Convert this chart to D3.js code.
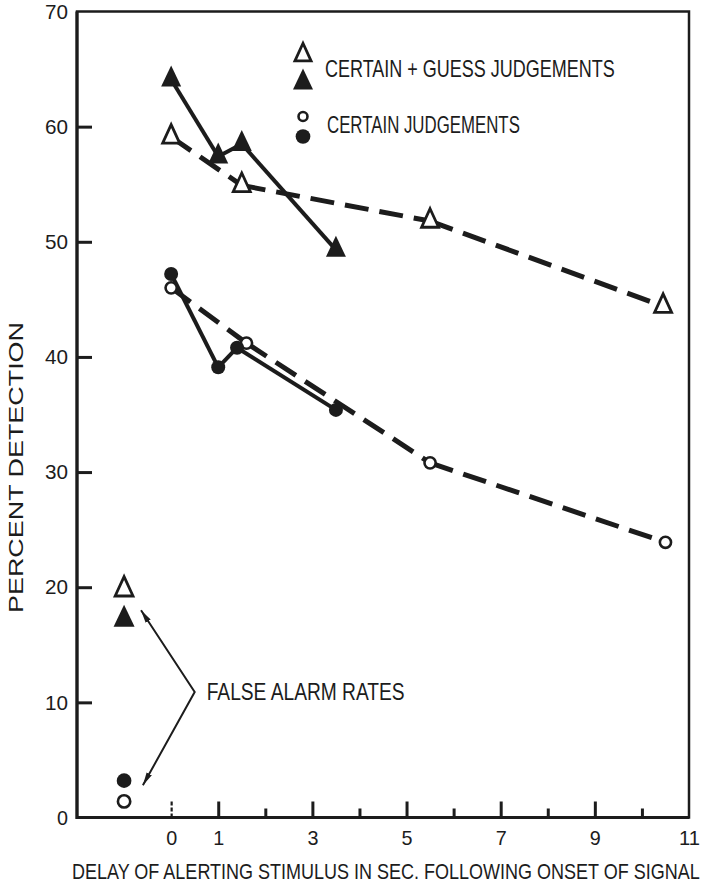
<!DOCTYPE html>
<html>
<head>
<meta charset="utf-8">
<script src="https://cdn.jsdelivr.net/npm/d3@7"></script>
<style>
  body { margin: 0; background: #fff; }
  svg text {
    font-family: "Liberation Sans Narrow", "Liberation Sans", Arial, sans-serif;
    fill: #1c1c1c;
  }
</style>
</head>
<body>
<div id="chart"></div>
<script>
//tick values
var yTicks = [0, 10, 20, 30, 40, 50, 60, 70];
var xMajor = [0, 1, 3, 5, 7, 9, 11];
var xMinor = [2, 4, 6, 8, 10];

//certain + guess judgements, open triangles (dashed)
var openTriX = [0, 1.5, 5.5, 10.45];
var openTriY = [59.1, 54.9, 51.8, 44.4];

//certain + guess judgements, filled triangles (solid)
var fillTriX = [0, 1, 1.5, 3.5];
var fillTriY = [64.1, 57.4, 58.5, 49.3];

//certain judgements, open circles (dashed)
var openCircX = [0, 1.6, 5.5, 10.5];
var openCircY = [46.0, 41.2, 30.8, 23.9];

//certain judgements, filled circles (solid)
var fillCircX = [0, 1, 1.4, 3.5];
var fillCircY = [47.2, 39.1, 40.8, 35.4];

//false alarm rates, drawn left of zero
var falseAlarmX = -1;
var falseAlarmKind = ["openTri", "fillTri", "fillCirc", "openCirc"];
var falseAlarmY = [19.8, 17.2, 3.2, 1.4];

//arrow for the false alarm label: upper tip, bend, lower tip
var arrowX = [-0.64, 0.5, -0.6];
var arrowY = [18, 10.9, 2.8];

var width = 707;
var height = 886;

var svg = d3
  .select("#chart")
  .append("svg")
  .attr("width", width)
  .attr("height", height);

//scales
var xScale = d3.scaleLinear().domain([-2, 11]).range([77, 689]);
var yScale = d3.scaleLinear().domain([0, 70]).range([817.5, 11.5]);

var ink = "#1c1c1c";

//squeeze a text horizontally so it fills a given width (condensed look)
var fitText = function(g, str, x, y, w, size, rotate, anchor) {
  var t = g
    .append("text")
    .attr("text-anchor", anchor || "start")
    .style("font-size", size + "px")
    .text(str);
  var natural = t.node().getComputedTextLength();
  t.attr(
    "transform",
    "translate(" + x + "," + y + ")" +
      (rotate ? " rotate(" + rotate + ")" : "") +
      " scale(" + w / natural + ",1)"
  );
  return t;
};

//frame
svg
  .append("rect")
  .attr("x", xScale(-2))
  .attr("y", yScale(70))
  .attr("width", xScale(11) - xScale(-2))
  .attr("height", yScale(0) - yScale(70))
  .attr("fill", "none")
  .attr("stroke", ink)
  .attr("stroke-width", 2.5);

//left and bottom lines are a bit heavier
svg
  .append("path")
  .attr("d", "M" + xScale(-2) + "," + yScale(70) + "V" + yScale(0) + "H" + xScale(11))
  .attr("fill", "none")
  .attr("stroke", ink)
  .attr("stroke-width", 3.2);

//y axis, ticks pointing inward
var yAxis = d3
  .axisLeft(yScale)
  .tickValues(yTicks)
  .tickSize(-15)
  .tickPadding(9);

var gy = svg
  .append("g")
  .attr("transform", "translate(" + xScale(-2) + ",0)")
  .call(yAxis);

gy.select(".domain").remove();
gy.selectAll(".tick line")
  .attr("stroke", ink)
  .attr("stroke-width", 3)
  .filter(function(d) {
    return d == 0 || d == 70;
  })
  .remove();
gy.selectAll(".tick text")
  .style("font-size", "21px")
  .attr("fill", ink)
  .attr("textLength", function(d) {
    return d < 10 ? 11 : 23;
  })
  .attr("lengthAdjust", "spacingAndGlyphs");

//x axis, major ticks
var xAxis = d3
  .axisBottom(xScale)
  .tickValues(xMajor)
  .tickSize(-16)
  .tickPadding(13);

var gx = svg
  .append("g")
  .attr("transform", "translate(0," + yScale(0) + ")")
  .call(xAxis);

gx.select(".domain").remove();
gx.selectAll(".tick line")
  .attr("stroke", ink)
  .attr("stroke-width", 3)
  .filter(function(d) {
    return d == 11;
  })
  .remove();
gx.selectAll(".tick line")
  .filter(function(d) {
    return d == 0;
  })
  .attr("stroke-width", 2.2)
  .attr("stroke-dasharray", "4,2");
gx.selectAll(".tick text")
  .style("font-size", "21px")
  .attr("fill", ink)
  .attr("textLength", function(d) {
    return d < 10 ? 11 : 21;
  })
  .attr("lengthAdjust", "spacingAndGlyphs");

//x axis, minor ticks
var xAxisMinor = d3
  .axisBottom(xScale)
  .tickValues(xMinor)
  .tickSize(-9)
  .tickFormat("");

var gxm = svg
  .append("g")
  .attr("transform", "translate(0," + yScale(0) + ")")
  .call(xAxisMinor);

gxm.select(".domain").remove();
gxm.selectAll(".tick line")
  .attr("stroke", ink)
  .attr("stroke-width", 3);

//axis titles
fitText(svg, "DELAY OF ALERTING STIMULUS IN SEC. FOLLOWING ONSET OF SIGNAL", 72, 879, 628, 22);
fitText(svg, "PERCENT DETECTION", 23, 467.5, 291, 21, -90, "middle");

//zip helper
var zip = function(xs, ys) {
  return xs.map(function(x, i) {
    return { x: x, y: ys[i] };
  });
};

var series = [
  { points: zip(openTriX, openTriY), kind: "openTri", dashed: true },
  { points: zip(openCircX, openCircY), kind: "openCirc", dashed: true },
  { points: zip(fillTriX, fillTriY), kind: "fillTri", dashed: false },
  { points: zip(fillCircX, fillCircY), kind: "fillCirc", dashed: false }
];

//lines, each segment drawn on its own so the dashes restart at every point
var lineLayer = svg.append("g");

series.forEach(function(s) {
  d3.pairs(s.points).forEach(function(p) {
    lineLayer
      .append("line")
      .attr("x1", xScale(p[0].x))
      .attr("y1", yScale(p[0].y))
      .attr("x2", xScale(p[1].x))
      .attr("y2", yScale(p[1].y))
      .attr("stroke", ink)
      .attr("stroke-width", s.dashed ? 5 : 4)
      .attr("stroke-dasharray", s.dashed ? "24,11" : null)
      .attr("stroke-linecap", "butt");
  });
});

//marker drawing
var triPath = function(cx, cy, hw, h) {
  return (
    "M" + cx + "," + (cy - (2 * h) / 3) +
    "L" + (cx + hw) + "," + (cy + h / 3) +
    "L" + (cx - hw) + "," + (cy + h / 3) + "Z"
  );
};

var drawMarker = function(g, kind, cx, cy, scale) {
  scale = scale || 1;
  if (kind == "openTri") {
    g.append("path")
      .attr("d", triPath(cx, cy, 8.5 * scale, 18.5 * scale))
      .attr("fill", "#fff")
      .attr("stroke", ink)
      .attr("stroke-width", 2.8)
      .attr("stroke-linejoin", "miter");
  } else if (kind == "fillTri") {
    g.append("path")
      .attr("d", triPath(cx, cy, 10 * scale, 21 * scale))
      .attr("fill", ink);
  } else if (kind == "openCirc") {
    g.append("circle")
      .attr("cx", cx)
      .attr("cy", cy)
      .attr("r", 5.6 * scale)
      .attr("fill", "#fff")
      .attr("stroke", ink)
      .attr("stroke-width", 2.6);
  } else {
    g.append("circle")
      .attr("cx", cx)
      .attr("cy", cy)
      .attr("r", 7 * scale)
      .attr("fill", ink);
  }
};

var markerLayer = svg.append("g");

series.forEach(function(s) {
  s.points.forEach(function(d) {
    drawMarker(markerLayer, s.kind, xScale(d.x), yScale(d.y));
  });
});

//false alarm points
falseAlarmY.forEach(function(v, i) {
  drawMarker(markerLayer, falseAlarmKind[i], xScale(falseAlarmX), yScale(v), i == 3 ? 1.1 : 1.05);
});

//arrowheads
var defs = svg.append("defs");
defs
  .append("marker")
  .attr("id", "arrowhead")
  .attr("markerUnits", "userSpaceOnUse")
  .attr("markerWidth", 14)
  .attr("markerHeight", 8)
  .attr("refX", 13)
  .attr("refY", 3)
  .attr("orient", "auto-start-reverse")
  .append("path")
  .attr("d", "M0,0L13,3L0,6Z")
  .attr("fill", ink);

var arrowLine = d3
  .line()
  .x(function(d) {
    return xScale(d[0]);
  })
  .y(function(d) {
    return yScale(d[1]);
  });

svg
  .append("path")
  .attr("d", arrowLine(d3.zip(arrowX, arrowY)))
  .attr("fill", "none")
  .attr("stroke", ink)
  .attr("stroke-width", 2)
  .attr("marker-start", "url(#arrowhead)")
  .attr("marker-end", "url(#arrowhead)");

fitText(svg, "FALSE ALARM RATES", 206.7, 700, 198, 23);

//legend
var legend = svg.append("g");

drawMarker(legend, "openTri", 303, 55, 0.95);
drawMarker(legend, "fillTri", 303, 82.5, 1);
drawMarker(legend, "openCirc", 303, 116.5, 0.8);
drawMarker(legend, "fillCirc", 303, 136.5, 1.05);

fitText(legend, "CERTAIN + GUESS JUDGEMENTS", 325, 76.5, 290, 23);
fitText(legend, "CERTAIN JUDGEMENTS", 327, 133.3, 193, 23);
</script>
</body>
</html>
